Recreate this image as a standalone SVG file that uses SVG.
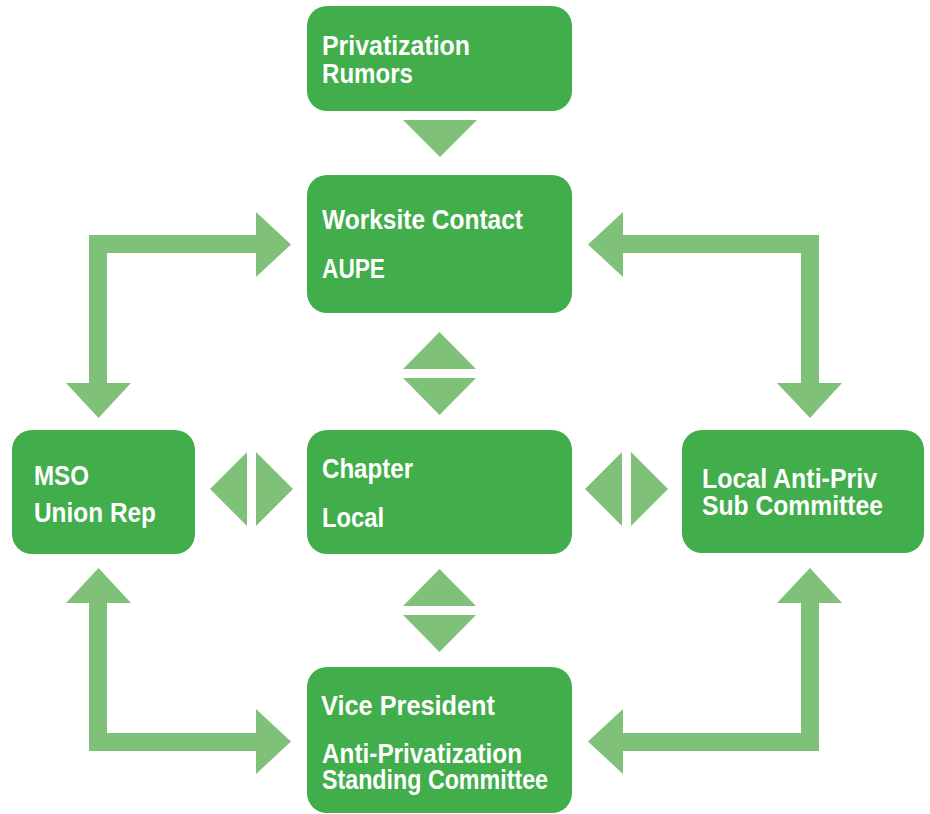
<svg xmlns="http://www.w3.org/2000/svg" width="930" height="814" viewBox="0 0 930 814">
<style>
.box{fill:#42ad4b}
.arr{fill:#80c179}
.t{font-family:"Liberation Sans Narrow","Liberation Sans",Arial,sans-serif;font-weight:bold;font-size:27px;fill:#ffffff}
</style>
<rect width="930" height="814" fill="#ffffff"/>
<g id="connectors">
<polygon class="arr" points="403,120 477,120 440,157"/>
<polygon class="arr" points="89,235 256,235 256,212 291,244.5 256,277 256,253 107,253 107,383 131,383 98.5,418 66,383 89,383"/>
<polygon class="arr" points="819,235 623,235 623,212 588,244.5 623,277 623,253 801,253 801,383 777,383 810,418 842,383 819,383"/>
<polygon class="arr" points="89,751 256,751 256,774 291,741.5 256,709 256,733 107,733 107,603 131,603 98.5,568 66,603 89,603"/>
<polygon class="arr" points="819,751 623,751 623,774 588,741.5 623,709 623,733 801,733 801,603 777,603 810,568 842,603 819,603"/>
<polygon class="arr" points="403,369 476,369 439.5,332"/>
<polygon class="arr" points="403,378 476,378 439.5,415"/>
<polygon class="arr" points="403,606 476,606 439.5,569"/>
<polygon class="arr" points="403,615 476,615 439.5,652"/>
<polygon class="arr" points="247,452 247,526 210,489"/>
<polygon class="arr" points="256,452 256,526 293,489"/>
<polygon class="arr" points="622,452 622,526 585,489"/>
<polygon class="arr" points="631,452 631,526 668,489"/>
</g>
<g id="rumors">
<rect class="box" x="307" y="6" width="265" height="105" rx="20"/>
<text class="t" x="322" y="55" textLength="148" lengthAdjust="spacingAndGlyphs">Privatization</text>
<text class="t" x="322" y="83" textLength="91" lengthAdjust="spacingAndGlyphs">Rumors</text>
</g>
<g id="worksite">
<rect class="box" x="307" y="175" width="265" height="138" rx="20"/>
<text class="t" x="322" y="229" textLength="201" lengthAdjust="spacingAndGlyphs">Worksite Contact</text>
<text class="t" x="322" y="278" textLength="63" lengthAdjust="spacingAndGlyphs">AUPE</text>
</g>
<g id="chapter">
<rect class="box" x="307" y="430" width="265" height="124" rx="20"/>
<text class="t" x="322" y="478" textLength="91" lengthAdjust="spacingAndGlyphs">Chapter</text>
<text class="t" x="322" y="527" textLength="62" lengthAdjust="spacingAndGlyphs">Local</text>
</g>
<g id="mso">
<rect class="box" x="12" y="430" width="183" height="124" rx="20"/>
<text class="t" x="34" y="485" textLength="55" lengthAdjust="spacingAndGlyphs">MSO</text>
<text class="t" x="34" y="522" textLength="122" lengthAdjust="spacingAndGlyphs">Union Rep</text>
</g>
<g id="subcommittee">
<rect class="box" x="682" y="430" width="242" height="123" rx="20"/>
<text class="t" x="702" y="488" textLength="175" lengthAdjust="spacingAndGlyphs">Local Anti-Priv</text>
<text class="t" x="702" y="515" textLength="181" lengthAdjust="spacingAndGlyphs">Sub Committee</text>
</g>
<g id="vicepresident">
<rect class="box" x="307" y="667" width="265" height="146" rx="20"/>
<text class="t" x="321" y="715" textLength="174" lengthAdjust="spacingAndGlyphs">Vice President</text>
<text class="t" x="322" y="763" textLength="200" lengthAdjust="spacingAndGlyphs">Anti-Privatization</text>
<text class="t" x="322" y="789" textLength="226" lengthAdjust="spacingAndGlyphs">Standing Committee</text>
</g>
</svg>
